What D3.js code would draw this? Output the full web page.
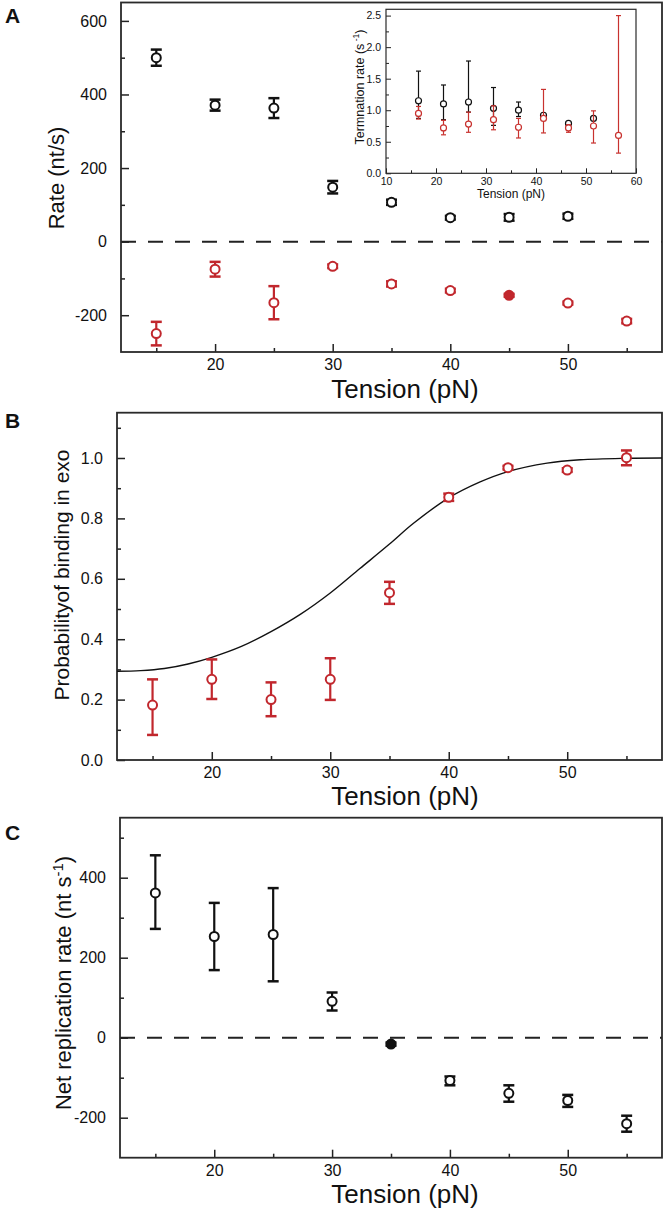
<!DOCTYPE html>
<html><head><meta charset="utf-8">
<script src="https://cdn.jsdelivr.net/npm/d3@7"></script>
<style>body{margin:0;background:#fff}svg{display:block;font-family:Arial,"Liberation Sans",sans-serif}</style>
</head><body>
<svg id="c" width="664" height="1211"></svg>
<script>
// ---------- DATA ----------
const tension = [15, 20, 25, 30, 35, 40, 45, 50, 55];
const xMajorTicks = [20, 30, 40, 50];
const xMinorTicks = [15, 25, 35, 45, 55];

// Panel A (main)
const aBlackTension = [15, 20, 25, 30, 35, 40, 45, 50];
const aBlackRate = [500, 371, 363, 148, 107, 65, 66, 69];
const aBlackErr = [22, 15, 27, 17, 7, 5, 9, 7];
const aRedRate = [-250, -75, -166, -67, -115, -133, -146, -167, -216];
const aRedErr = [32, 20, 45, 5, 7, 5, 4, 4, 6];
const aRedFilled = [false, false, false, false, false, false, true, false, false];
const aYMajor = [-200, 0, 200, 400, 600];
const aYMinor = [-100, 100, 300, 500];

// Panel A (inset)
const insetTension = [16.5, 21.5, 26.5, 31.5, 36.5, 41.5, 46.5, 51.5, 56.5];
const insetBlack = [1.15, 1.10, 1.13, 1.03, 1.00, 0.92, 0.79, 0.87];
const insetBlackLo = [0.87, 0.85, 0.97, 0.76, 0.90, 0.89, 0.77, 0.84];
const insetBlackHi = [1.62, 1.40, 1.78, 1.36, 1.13, 0.95, 0.81, 0.90];
const insetRed = [0.95, 0.72, 0.78, 0.85, 0.73, 0.87, 0.72, 0.75, 0.60];
const insetRedLo = [0.86, 0.61, 0.65, 0.69, 0.56, 0.64, 0.65, 0.48, 0.32];
const insetRedHi = [1.06, 0.84, 0.97, 1.07, 0.87, 1.33, 0.77, 0.99, 2.50];
const insetXTicks = [10, 20, 30, 40, 50, 60];
const insetXMinor = [15, 25, 35, 45, 55];
const insetYTicks = [0, 0.5, 1.0, 1.5, 2.0, 2.5];
const insetYMinor = [0.25, 0.75, 1.25, 1.75, 2.25];

// Panel B
const bProb = [0.182, 0.267, 0.200, 0.267, 0.554, 0.870, 0.968, 0.960, 1.001];
const bLo = [0.083, 0.202, 0.145, 0.199, 0.517, 0.858, 0.962, 0.954, 0.976];
const bHi = [0.267, 0.333, 0.257, 0.337, 0.590, 0.882, 0.974, 0.966, 1.025];
const fitTension = [12, 14, 16, 18, 20, 22.5, 25, 27.5, 30, 32.5, 35, 37, 40, 42.6, 45, 48.3, 51.1, 55, 58];
const fitProb = [0.294, 0.296, 0.303, 0.318, 0.340, 0.376, 0.425, 0.483, 0.553, 0.634, 0.715, 0.783, 0.868, 0.920, 0.955, 0.983, 0.994, 0.999, 1.0];
const bYMajor = [0, 0.2, 0.4, 0.6, 0.8, 1.0];
const bYMinor = [0.1, 0.3, 0.5, 0.7, 0.9, 1.1];

// Panel C
const cRate = [362, 253, 258, 91, -16, -107, -139, -157, -215];
const cLo = [272, 169, 141, 68, -20, -119, -160, -173, -235];
const cHi = [456, 337, 374, 113, -12, -97, -119, -143, -195];
const cFilled = [false, false, false, false, true, false, false, false, false];
const cYMajor = [-200, 0, 200, 400];
const cYMinor = [-100, 100, 300, 500];

// ---------- DRAW ----------
const RED = "#c1272d", BLACK = "#111";
const svg = d3.select("#c");
const intFmt = v => String(Math.round(v));          // ASCII hyphen minus like the reference
const oneDec = v => v.toFixed(1);

function frameAxes(g, x, y, opt) {
  const [x0, x1] = x.range(), [y0, y1] = y.range();
  const styleText = a => a.selectAll("text").attr("font-size", opt.fs).attr("fill", "#111").attr("font-family", "Arial, 'Liberation Sans', sans-serif");
  const styleLines = a => a.selectAll("line").attr("stroke", "#222").attr("stroke-width", opt.tw);
  g.append("g").attr("transform", `translate(0,${y0})`)
    .call(d3.axisBottom(x).tickValues(opt.xMajor).tickSize(-opt.maj).tickPadding(opt.xpad).tickFormat(intFmt))
    .call(a => { a.select(".domain").remove(); styleText(a); styleLines(a); });
  g.append("g").attr("transform", `translate(0,${y0})`)
    .call(d3.axisBottom(x).tickValues(opt.xMinor).tickSize(-opt.min).tickFormat(""))
    .call(a => { a.select(".domain").remove(); styleLines(a); });
  g.append("g").attr("transform", `translate(${x0},0)`)
    .call(d3.axisLeft(y).tickValues(opt.yMajor).tickSize(-opt.maj).tickPadding(opt.ypad).tickFormat(opt.yfmt))
    .call(a => { a.select(".domain").remove(); styleText(a); styleLines(a); });
  g.append("g").attr("transform", `translate(${x0},0)`)
    .call(d3.axisLeft(y).tickValues(opt.yMinor).tickSize(-opt.min).tickFormat(""))
    .call(a => { a.select(".domain").remove(); styleLines(a); });
  g.append("rect").attr("x", x0).attr("y", y1).attr("width", x1 - x0).attr("height", y0 - y1)
    .attr("fill", "none").attr("stroke", "#2a2a2a").attr("stroke-width", opt.fw);
}

function errPoints(g, x, y, xs, vals, lo, hi, color, st) {
  const d = xs.map((t, i) => ({ t, v: vals[i], lo: lo[i], hi: hi[i], f: st.filled ? st.filled[i] : false })).filter(d => d.v !== undefined);
  const gg = g.append("g");
  gg.selectAll("line.e").data(d).join("line").attr("x1", d => x(d.t)).attr("x2", d => x(d.t))
    .attr("y1", d => y(d.lo)).attr("y2", d => y(d.hi)).attr("stroke", color).attr("stroke-width", st.ew);
  ["lo", "hi"].forEach(k => {
    gg.selectAll("line.c" + k).data(d).join("line").attr("x1", d => x(d.t) - st.cap).attr("x2", d => x(d.t) + st.cap)
      .attr("y1", d => y(d[k])).attr("y2", d => y(d[k])).attr("stroke", color).attr("stroke-width", st.cw);
  });
  gg.selectAll("circle").data(d).join("circle").attr("cx", d => x(d.t)).attr("cy", d => y(d.v)).attr("r", st.r)
    .attr("fill", d => d.f ? color : "#fff").attr("stroke", color).attr("stroke-width", st.sw);
}

const bigOpt = { maj: 8, min: 4, fs: 16, xpad: 7, ypad: 14, tw: 1.5, fw: 1.8, xMajor: xMajorTicks, xMinor: xMinorTicks };
const bigSt = { ew: 2.2, cw: 2.5, cap: 5.5, r: 4.5, sw: 2 };

function xTitle(ty, text) {
  svg.append("text").attr("x", 405).attr("y", ty).attr("text-anchor", "middle").attr("font-size", 26).attr("fill", "#111").text(text);
}
function panelLabel(ty, t) {
  svg.append("text").attr("x", 5).attr("y", ty).attr("font-size", 21).attr("font-weight", "bold").attr("fill", "#111").text(t);
}

// ---- Panel A ----
{
  const x = d3.scaleLinear().domain([12, 58]).range([121, 662]);
  const y = d3.scaleLinear().domain([-300, 650]).range([352, 2.5]);
  const g = svg.append("g");
  g.append("line").attr("x1", x(12)).attr("x2", x(58)).attr("y1", y(0)).attr("y2", y(0))
    .attr("stroke", "#222").attr("stroke-width", 2).attr("stroke-dasharray", "15,12");
  frameAxes(g, x, y, Object.assign({}, bigOpt, { yMajor: aYMajor, yMinor: aYMinor, yfmt: intFmt }));
  errPoints(g, x, y, aBlackTension, aBlackRate, aBlackRate.map((v, i) => v - aBlackErr[i]), aBlackRate.map((v, i) => v + aBlackErr[i]), BLACK, bigSt);
  errPoints(g, x, y, tension, aRedRate, aRedRate.map((v, i) => v - aRedErr[i]), aRedRate.map((v, i) => v + aRedErr[i]), RED, Object.assign({ filled: aRedFilled }, bigSt));
  g.append("text").attr("transform", "translate(64,178) rotate(-90)").attr("text-anchor", "middle").attr("font-size", 22).attr("fill", "#111").text("Rate (nt/s)");

  // inset
  const ix = d3.scaleLinear().domain([10, 60]).range([386, 636]);
  const iy = d3.scaleLinear().domain([0, 2.6]).range([173.3, 9.3]);
  const ig = svg.append("g");
  frameAxes(ig, ix, iy, { maj: 5, min: 3, fs: 10.5, xpad: 4, ypad: 5, tw: 1, fw: 1.2, xMajor: insetXTicks, xMinor: insetXMinor, yMajor: insetYTicks, yMinor: insetYMinor, yfmt: oneDec });
  const iSt = { ew: 1.2, cw: 1.2, cap: 2.5, r: 3, sw: 1.2 };
  errPoints(ig, ix, iy, insetTension, insetBlack, insetBlackLo, insetBlackHi, BLACK, iSt);
  errPoints(ig, ix, iy, insetTension, insetRed, insetRedLo, insetRedHi, "#c8322f", iSt);
  ig.append("text").attr("x", 511).attr("y", 198).attr("text-anchor", "middle").attr("font-size", 12).attr("fill", "#111").text("Tension (pN)");
  const yt = ig.append("text").attr("transform", "translate(364,87) rotate(-90)").attr("text-anchor", "middle").attr("font-size", 12.5).attr("fill", "#111");
  yt.append("tspan").text("Termnation rate (s");
  yt.append("tspan").attr("dy", -5).attr("font-size", 8.5).text(" -1");
  yt.append("tspan").attr("dy", 5).text(")");
  xTitle(398, "Tension (pN)");
  panelLabel(23, "A");
}

// ---- Panel B ----
{
  const x = d3.scaleLinear().domain([12, 58]).range([117, 662]);
  const y = d3.scaleLinear().domain([0, 1.15]).range([760, 412.7]);
  const g = svg.append("g");
  frameAxes(g, x, y, Object.assign({}, bigOpt, { yMajor: bYMajor, yMinor: bYMinor, yfmt: oneDec }));
  g.append("path").datum(fitTension.map((t, i) => [t, fitProb[i]]))
    .attr("d", d3.line().x(d => x(d[0])).y(d => y(d[1])).curve(d3.curveCatmullRom.alpha(0.5)))
    .attr("fill", "none").attr("stroke", "#111").attr("stroke-width", 1.4);
  errPoints(g, x, y, tension, bProb, bLo, bHi, RED, bigSt);
  g.append("text").attr("transform", "translate(69,575) rotate(-90)").attr("text-anchor", "middle").attr("font-size", 21).attr("fill", "#111").text("Probabilityof binding in exo");
  xTitle(805, "Tension (pN)");
  panelLabel(428, "B");
}

// ---- Panel C ----
{
  const x = d3.scaleLinear().domain([12, 58]).range([120, 662]);
  const y = d3.scaleLinear().domain([-300, 550]).range([1157.7, 817.7]);
  const g = svg.append("g");
  g.append("line").attr("x1", x(12)).attr("x2", x(58)).attr("y1", y(0)).attr("y2", y(0))
    .attr("stroke", "#222").attr("stroke-width", 2).attr("stroke-dasharray", "15,12");
  frameAxes(g, x, y, Object.assign({}, bigOpt, { yMajor: cYMajor, yMinor: cYMinor, yfmt: intFmt }));
  errPoints(g, x, y, tension, cRate, cLo, cHi, BLACK, Object.assign({ filled: cFilled }, bigSt));
  const t = g.append("text").attr("transform", "translate(71,983) rotate(-90)").attr("text-anchor", "middle").attr("font-size", 22).attr("fill", "#111");
  t.append("tspan").text("Net replication rate (nt s");
  t.append("tspan").attr("dy", -8).attr("font-size", 15).text("-1");
  t.append("tspan").attr("dy", 8).text(")");
  xTitle(1203, "Tension (pN)");
  panelLabel(840, "C");
}
</script>
</body></html>
